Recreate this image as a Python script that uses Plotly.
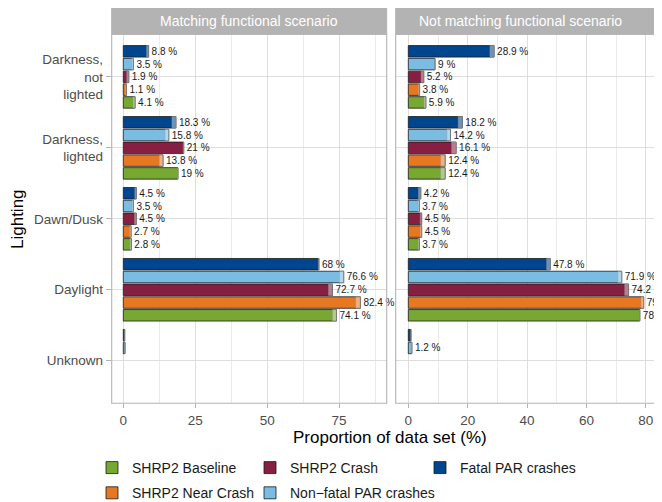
import plotly.graph_objects as go

categories = ["Darkness, not lighted", "Darkness, lighted", "Dawn/Dusk", "Daylight", "Unknown"]
cat_labels = ["Darkness,<br>not<br>lighted", "Darkness,<br>lighted", "Dawn/Dusk", "Daylight", "Unknown"]

series = ["Fatal PAR crashes", "Non\u2212fatal PAR crashes", "SHRP2 Crash", "SHRP2 Near Crash", "SHRP2 Baseline"]
colors = ["#00468E", "#7BBCE3", "#861F41", "#E87722", "#76A832"]
legend_of = ["legend3", "legend2", "legend2", "legend", "legend"]
rank_of = [5, 4, 3, 2, 1]

# Matching functional scenario
match_fatal = [8.8, 18.3, 4.5, 68.0, 0.5]
match_nonfatal = [3.5, 15.8, 3.5, 76.6, 0.6]
match_crash = [1.9, 21.0, 4.5, 72.7, 0.0]
match_near = [1.1, 13.8, 2.7, 82.4, 0.0]
match_base = [4.1, 19.0, 2.8, 74.1, 0.0]
# lower bounds of the shaded interval at bar ends
match_fatal_lo = [8.1, 16.9, 4.0, 67.8, 0.4]
match_nonfatal_lo = [2.9, 14.5, 3.0, 75.1, 0.5]
match_crash_lo = [1.2, 20.8, 3.9, 71.3, 0.0]
match_near_lo = [0.7, 12.5, 2.2, 80.8, 0.0]
match_base_lo = [3.4, 18.8, 2.3, 72.7, 0.0]

# Not matching functional scenario
nomatch_fatal = [28.9, 18.2, 4.2, 47.8, 0.9]
nomatch_nonfatal = [9.0, 14.2, 3.7, 71.9, 1.2]
nomatch_crash = [5.2, 16.1, 4.5, 74.2, 0.0]
nomatch_near = [3.8, 12.4, 4.5, 79.3, 0.0]
nomatch_base = [5.9, 12.4, 3.7, 78.0, 0.0]
nomatch_fatal_lo = [27.5, 16.8, 3.4, 46.6, 0.8]
nomatch_nonfatal_lo = [8.9, 13.0, 3.2, 70.6, 1.0]
nomatch_crash_lo = [4.3, 14.6, 4.0, 72.9, 0.0]
nomatch_near_lo = [3.4, 10.9, 4.0, 78.4, 0.0]
nomatch_base_lo = [5.3, 10.9, 3.3, 77.9, 0.0]

panels = [
    ("x", "y", [match_fatal, match_nonfatal, match_crash, match_near, match_base],
     [match_fatal_lo, match_nonfatal_lo, match_crash_lo, match_near_lo, match_base_lo], True),
    ("x2", "y2", [nomatch_fatal, nomatch_nonfatal, nomatch_crash, nomatch_near, nomatch_base],
     [nomatch_fatal_lo, nomatch_nonfatal_lo, nomatch_crash_lo, nomatch_near_lo, nomatch_base_lo], False),
]

FONT = "Liberation Sans, Arial, sans-serif"

fig = go.Figure()
for xa, ya, vals, los, showleg in panels:
    for i, name in enumerate(series):
        v = [x if x > 0 else None for x in vals[i]]
        txt = [f"{x:g} %" if x >= 1 else "" for x in vals[i]]
        fig.add_trace(go.Bar(
            y=categories, x=v, orientation="h", name=name,
            xaxis=xa, yaxis=ya, offsetgroup=name,
            marker=dict(color=colors[i], line=dict(color="#1a1a1a", width=0.8)),
            text=txt, textposition="outside", constraintext="none", cliponaxis=(xa != "x"),
            textfont=dict(family=FONT, size=10, color="#1a1a1a"),
            showlegend=showleg, legend=legend_of[i], legendrank=rank_of[i],
            legendgroup=name, hoverinfo="skip",
        ))
    for i, name in enumerate(series):
        lo = los[i]
        w = [(a - b) if a > 0 else None for a, b in zip(vals[i], lo)]
        fig.add_trace(go.Bar(
            y=categories, x=w, base=lo, orientation="h",
            xaxis=xa, yaxis=ya, offsetgroup=name,
            marker=dict(color="rgba(255,255,255,0.42)", line=dict(color="rgba(150,150,150,0.7)", width=0.6)),
            showlegend=False, hoverinfo="skip",
        ))

grid_major = "#DEDEDE"
grid_minor = "#EBEBEB"
# the page has an 8px body margin; figure coordinates are page coordinates minus 8
W, H = 654, 494
OFF = 8
def px(xp):
    return (xp - OFF) / W
def py(yp):
    return (H - (yp - OFF)) / H

top_px, bot_px = 34.3, 403.3
ydom = [py(bot_px), py(top_px)]

common_x = dict(showline=False, zeroline=False, ticks="outside", ticklen=4, tickcolor="#B3B3B3",
                tickfont=dict(family=FONT, size=13.5, color="#4D4D4D"), automargin=False,
                showgrid=True, gridcolor=grid_major, gridwidth=1)
legfont = dict(family=FONT, size=14, color="#1a1a1a")
leg_top = py(452)
fig.update_layout(
    width=W, height=H, margin=dict(l=0, r=0, t=0, b=0, autoexpand=False),
    paper_bgcolor="white", plot_bgcolor="white",
    barmode="group", bargap=0.1, bargroupgap=0.1,
    font=dict(family=FONT),
    xaxis=dict(domain=[px(111.7), px(386.7)], range=[-4.03, 91.55], anchor="y",
               tickvals=[0, 25, 50, 75],
               minor=dict(tickvals=[12.5, 37.5, 62.5, 87.5], showgrid=True, gridcolor=grid_minor, gridwidth=0.6, ticks=""),
               **common_x),
    xaxis2=dict(domain=[px(395.7), 1.0], range=[-4.25, 85.47], anchor="y2",
                tickvals=[0, 20, 40, 60, 80],
                minor=dict(tickvals=[10, 30, 50, 70], showgrid=True, gridcolor=grid_minor, gridwidth=0.6, ticks=""),
                **common_x),
    yaxis=dict(domain=ydom, range=[4.6, -0.6], anchor="x", type="category",
               categoryorder="array", categoryarray=categories,
               tickvals=categories, ticktext=cat_labels, automargin=False,
               ticks="outside", ticklen=5, tickcolor="#B3B3B3",
               tickfont=dict(family=FONT, size=13.5, color="#4D4D4D"),
               showgrid=True, gridcolor=grid_major, gridwidth=1, zeroline=False, showline=False),
    yaxis2=dict(domain=ydom, range=[4.6, -0.6], anchor="x2", type="category",
                categoryorder="array", categoryarray=categories, matches="y",
                showticklabels=False, ticks="", automargin=False,
                showgrid=True, gridcolor=grid_major, gridwidth=1, zeroline=False, showline=False),
    legend=dict(orientation="v", x=px(134) - 42 / W, y=leg_top, xanchor="left", yanchor="top",
                font=legfont, tracegroupgap=4, bgcolor="rgba(0,0,0,0)"),
    legend2=dict(orientation="v", x=px(292) - 42 / W, y=leg_top, xanchor="left", yanchor="top",
                 font=legfont, tracegroupgap=4, bgcolor="rgba(0,0,0,0)"),
    legend3=dict(orientation="v", x=px(462) - 42 / W, y=leg_top, xanchor="left", yanchor="top",
                 font=legfont, tracegroupgap=4, bgcolor="rgba(0,0,0,0)"),
)

# panel borders and strips
strip_bottom = py(top_px)
strip_top = 1.0
for xa, label, cx in [("x", "Matching functional scenario", px((111.7 + 386.7) / 2)),
                      ("x2", "Not matching functional scenario", px(520))]:
    ya = "y" if xa == "x" else "y2"
    x1 = 1 if xa == "x" else 1.2
    fig.add_shape(type="rect", xref=f"{xa} domain", yref=f"{ya} domain", x0=0, x1=x1, y0=0, y1=1,
                  line=dict(color="#B3B3B3", width=1.1), fillcolor="rgba(0,0,0,0)", layer="above")
    fig.add_shape(type="rect", xref=f"{xa} domain", yref="paper", x0=0, x1=x1, y0=strip_bottom, y1=strip_top,
                  line=dict(color="#B3B3B3", width=1), fillcolor="#B3B3B3", layer="above")
    fig.add_annotation(text=label, xref="paper", yref="paper", x=cx, y=(strip_bottom + py(7.3)) / 2,
                       showarrow=False, font=dict(family=FONT, size=14, color="white"),
                       xanchor="center", yanchor="middle")

fig.add_annotation(text="Proportion of data set (%)", xref="paper", yref="paper", x=px(390), y=py(437),
                   showarrow=False, font=dict(family=FONT, size=17, color="black"), xanchor="center", yanchor="middle")
fig.add_annotation(text="Lighting", xref="paper", yref="paper", x=px(17), y=py(219), textangle=-90,
                   showarrow=False, font=dict(family=FONT, size=17, color="black"), xanchor="center", yanchor="middle")

fig.write_html("out.html")
